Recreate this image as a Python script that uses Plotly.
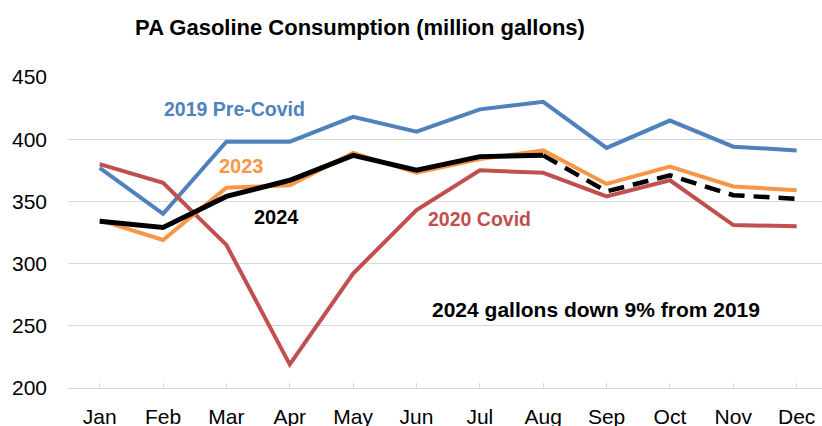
import plotly.graph_objects as go

months = ["Jan", "Feb", "Mar", "Apr", "May", "Jun", "Jul", "Aug", "Sep", "Oct", "Nov", "Dec"]
y2019 = [377, 340, 398, 398, 418, 406, 424, 430, 393, 415, 394, 391]
y2020 = [380, 365, 315, 219, 292, 343, 375, 373, 354, 367, 331, 330]
y2023 = [335, 319, 361, 363, 389, 373, 384, 391, 364, 378, 362, 359]
y2024 = [334, 329, 354, 367, 387, 375, 386, 387]
y2024_proj_months = ["Aug", "Sep", "Oct", "Nov", "Dec"]
y2024_proj = [387, 358, 371, 355, 352]
yticks = [200, 250, 300, 350, 400, 450]

BLUE = "#4F81BD"
RED = "#C0504D"
ORANGE = "#F79646"

fig = go.Figure()
fig.add_trace(go.Scatter(x=months, y=y2019, mode="lines", line=dict(color=BLUE, width=4), name="2019"))
fig.add_trace(go.Scatter(x=months, y=y2020, mode="lines", line=dict(color=RED, width=4), name="2020"))
fig.add_trace(go.Scatter(x=months, y=y2023, mode="lines", line=dict(color=ORANGE, width=4), name="2023"))
fig.add_trace(go.Scatter(x=y2024_proj_months, y=y2024_proj, mode="lines",
                         line=dict(color="black", width=4.5, dash="16px,9px"), name="2024 proj"))
fig.add_trace(go.Scatter(x=months[:len(y2024)], y=y2024, mode="lines",
                         line=dict(color="black", width=5), name="2024"))

font_family = "Liberation Sans, Arial, sans-serif"

def label(text, x, y, color, size):
    fig.add_annotation(x=x, y=y, xref="x", yref="y", text="<b>" + text + "</b>",
                       showarrow=False, font=dict(family=font_family, size=size, color=color),
                       xanchor="center", yanchor="middle")

label("2019 Pre-Covid", 2.13, 424.3, BLUE, 19.5)
label("2023", 2.24, 378.5, ORANGE, 20)
label("2024", 2.79, 337.5, "black", 20)
label("2020 Covid", 5.99, 335.9, RED, 19.5)
label("2024 gallons down 9% from 2019", 7.84, 263.5, "black", 21)

fig.update_layout(
    width=822, height=426,
    margin=dict(l=68, r=0, t=77, b=38, autoexpand=False),
    paper_bgcolor="white", plot_bgcolor="white",
    showlegend=False,
    font=dict(family=font_family, color="black"),
    title=dict(text="<b>PA Gasoline Consumption (million gallons)</b>",
               x=360 / 822, xref="container", xanchor="center",
               y=1 - 27 / 426, yref="container", yanchor="middle",
               font=dict(family=font_family, size=22, color="black")),
)
fig.update_xaxes(
    type="category", categoryorder="array", categoryarray=months,
    range=[-0.5, 11.4], automargin=False,
    showgrid=False, showline=True, linecolor="#d9d9d9", linewidth=1.2,
    ticks="inside", ticklen=5, tickcolor="#d9d9d9", tickwidth=1,
    tickfont=dict(size=21, color="black"), ticklabelstandoff=10,
)
fig.update_yaxes(
    range=[200, 450], tickvals=yticks, automargin=False,
    showgrid=True, gridcolor="#d9d9d9", gridwidth=1.2,
    zeroline=False, showline=False, ticks="",
    tickfont=dict(size=21, color="black"), ticklabelstandoff=20,
)

fig.write_html("out.html")
